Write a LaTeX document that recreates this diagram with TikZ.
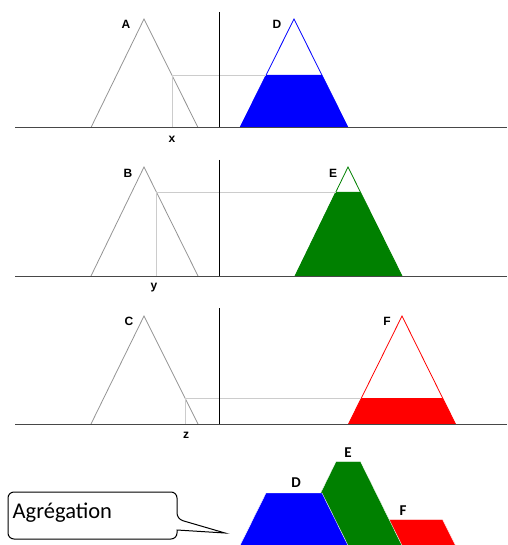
\documentclass[tikz,border=0pt]{standalone}
\usepackage{fontspec}
\newfontfamily\labfont{Liberation Sans}
\newfontfamily\calfont{Carlito}
\definecolor{mfblue}{RGB}{0,0,255}
\definecolor{mfgreen}{RGB}{0,128,0}
\definecolor{mfred}{RGB}{255,0,0}
\tikzset{
  tri/.style={draw=black!42, line width=0.8pt},
  guide/.style={draw=black!20, line width=0.8pt},
  vaxis/.style={draw=black, line width=1pt},
  baseline/.style={draw=black!72, line width=1pt},
  lbl/.style={font=\labfont\bfseries\fontsize{12}{14}\selectfont, inner sep=0pt},
  blbl/.style={font=\calfont\bfseries\fontsize{15}{17}\selectfont, inner sep=0pt},
  callout/.style={draw=black, line width=1pt, fill=white, rounded corners=6pt},
}
\begin{document}
\begin{tikzpicture}[x=1pt,y=-1pt]
\useasboundingbox (0,0) rectangle (507,545);

% ---------- Panel 1 ----------
\fill[mfblue] (240,127.5) -- (266.1,75) -- (321.9,75) -- (348,127.5) -- cycle;
\draw[draw=mfblue, line width=0.8pt] (240,127.5) -- (294,19) -- (348,127.5);
\draw[tri] (91,127.5) -- (144,19) -- (198,127.5);
\coordinate (g1a) at (172,75);
\coordinate (g1b) at (266.1,75);
\coordinate (g1c) at (172,127.5);
\draw[guide] (g1c) -- (g1a) -- (g1b);
\coordinate (ax1t) at (219,12);
\coordinate (ax1b) at (219,127.5);
\draw[vaxis] (ax1t) -- (ax1b);
\coordinate (bl1a) at (15,127.5);
\coordinate (bl1b) at (507,127.5);
\draw[baseline] (bl1a) -- (bl1b);
\node[lbl] (lA) at (126,24) {A};
\node[lbl] (lD) at (277,24) {D};
\node[lbl] (lx) at (172,139) {x};

% ---------- Panel 2 ----------
\fill[mfgreen] (295,276) -- (335.7,192) -- (360.3,192) -- (402,276) -- cycle;
\draw[draw=mfgreen, line width=0.8pt] (295,276) -- (348,167) -- (402,276);
\draw[tri] (91,276) -- (144,167) -- (198,276);
\coordinate (g2a) at (156.5,192);
\coordinate (g2b) at (335.7,192);
\coordinate (g2c) at (156.5,276);
\draw[guide] (g2c) -- (g2a) -- (g2b);
\coordinate (ax2t) at (219,160);
\coordinate (ax2b) at (219,276);
\draw[vaxis] (ax2t) -- (ax2b);
\coordinate (bl2a) at (15,276);
\coordinate (bl2b) at (507,276);
\draw[baseline] (bl2a) -- (bl2b);
\node[lbl] (lB) at (128,173) {B};
\node[lbl] (lE) at (333,173) {E};
\node[lbl] (ly) at (154,288) {y};

% ---------- Panel 3 ----------
\fill[mfred] (348.5,424) -- (361.4,398) -- (442.6,398) -- (455.5,424) -- cycle;
\draw[draw=mfred, line width=0.8pt] (348.5,424) -- (402,316) -- (455.5,424);
\draw[tri] (91,424) -- (144,316) -- (198,424);
\coordinate (g3a) at (185.5,398);
\coordinate (g3b) at (361.4,398);
\coordinate (g3c) at (185.5,424);
\draw[guide] (g3c) -- (g3a) -- (g3b);
\coordinate (ax3t) at (219,308);
\coordinate (ax3b) at (219,424);
\draw[vaxis] (ax3t) -- (ax3b);
\coordinate (bl3a) at (15,424);
\coordinate (bl3b) at (507,424);
\draw[baseline] (bl3a) -- (bl3b);
\node[lbl] (lC) at (129,321) {C};
\node[lbl] (lF) at (387,321) {F};
\node[lbl] (lz) at (186,435) {z};

% ---------- Aggregation ----------
\fill[mfred, draw=white, line width=0.4pt] (348.5,545.5) -- (361.5,519.5) -- (442.5,519.5) -- (455.5,545.5) -- cycle;
\fill[mfgreen, draw=white, line width=0.4pt] (295,545.5) -- (336,461.5) -- (360.5,461.5) -- (402,545.5) -- cycle;
\fill[mfblue, draw=white, line width=0.4pt] (240,545.5) -- (266,493) -- (322,493) -- (348,545.5) -- cycle;
\node[blbl] (aD) at (296,483) {D};
\node[blbl] (aE) at (348,453) {E};
\node[blbl] (aF) at (403,511) {F};

% ---------- Callout ----------
\coordinate (tip) at (225,533);
\draw[callout] (177,519) [sharp corners]-- (tip) -- (177,530) [rounded corners=6pt]
  -- (177,539) -- (8,539) -- (8,492) -- (177,492) -- cycle;
\node[font=\calfont\fontsize{22.5}{26}\selectfont, anchor=base west, inner sep=0pt] (agg) at (12.5,518.5) {Agrégation};
\end{tikzpicture}
\end{document}
